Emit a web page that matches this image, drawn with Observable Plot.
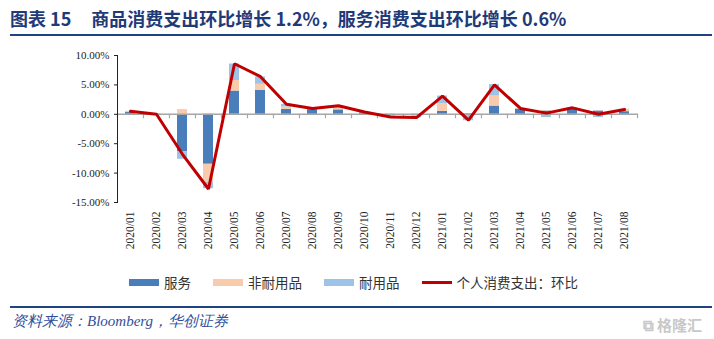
<!DOCTYPE html>
<html><head><meta charset="utf-8">
<script src="https://cdn.jsdelivr.net/npm/d3@7"></script>
<script src="https://cdn.jsdelivr.net/npm/@observablehq/plot@0.6"></script>
<style>
body{margin:0;background:#fff;width:714px;height:339px;position:relative;overflow:hidden;font-family:"Noto Sans CJK SC",sans-serif;}
#title{position:absolute;left:10px;top:5px;font-family:"Noto Sans CJK SC";font-weight:bold;font-size:18px;color:#1f3a78;white-space:nowrap;}
#title .gap{display:inline-block;width:20px;}
#tline{position:absolute;left:10px;right:2px;top:34px;height:2px;background:#1f4280;}
#chart{position:absolute;left:0;top:40px;}
#legend{position:absolute;left:129px;top:272px;display:flex;align-items:center;font-size:13.5px;color:#333;white-space:nowrap;}
.sw{display:inline-block;width:30px;height:7px;margin-right:5px;}
.item{display:flex;align-items:center;margin-right:22px;}
#bline{position:absolute;left:10px;right:2px;top:306px;height:2px;background:#1f4280;}
#source{position:absolute;left:12px;top:312px;font-family:"Liberation Serif","Noto Serif",serif;font-style:italic;font-size:15px;color:#2f4f9a;white-space:nowrap;}
#wm{position:absolute;right:12px;top:314px;font-size:15px;color:#c8c8c8;font-weight:bold;}
</style></head>
<body>
<div id="title">图表 15<span class="gap"></span>商品消费支出环比增长 1.2%，服务消费支出环比增长 0.6%</div>
<div id="tline"></div>
<div id="chart"></div>
<div id="legend"></div>
<div id="bline"></div>
<div id="source">资料来源：Bloomberg，华创证券</div>
<div id="wm">⧉ 格隆汇</div>
<script>
const categories = ["2020/01","2020/02","2020/03","2020/04","2020/05","2020/06","2020/07","2020/08","2020/09","2020/10","2020/11","2020/12","2021/01","2021/02","2021/03","2021/04","2021/05","2021/06","2021/07","2021/08"];
const seriesNames = ["服务","非耐用品","耐用品"];
const lineName = "个人消费支出：环比";
const services    = [0.3, -0.1, -6.35, -8.5, 3.95, 4.1, 0.85, 0.8, 0.75, 0.25, -0.15, -0.1, 0.5, 0.1, 1.4, 0.85, 0.55, 0.85, 0.55, 0.45];
const nondurables = [0.1, 0.1, 0.8, -3.05, 1.8, 1.0, 0.4, 0.1, 0.35, 0.1, -0.1, -0.2, 1.3, -0.2, 1.7, 0.05, 0.1, 0.1, 0.05, 0.35];
const durables    = [0.1, 0.0, -1.3, -1.1, 2.8, 1.25, 0.45, 0.1, 0.3, 0.05, -0.2, -0.3, 1.3, -0.9, 1.95, 0.1, -0.55, 0.15, -0.55, 0.05];
const total       = [0.5, 0.0, -6.8, -12.7, 8.6, 6.4, 1.7, 1.0, 1.45, 0.4, -0.45, -0.55, 3.1, -1.0, 5.0, 1.0, 0.2, 1.1, 0.0, 0.8];
const yTicks = [-15, -10, -5, 0, 5, 10];
const colors = ["#4a7ebb", "#f8cbad", "#9dc3e6"];
const lineColor = "#c00000";

const rows = [];
categories.forEach((c, i) => {
  [services, nondurables, durables].forEach((arr, j) => rows.push({cat: c, series: seriesNames[j], value: arr[i]}));
});
const lineRows = categories.map((c, i) => ({cat: c, value: total[i]}));

const W = 714, ML = 117, MR = 76;
const step = (W - ML - MR) / categories.length;

const plot = Plot.plot({
  width: W, height: 225,
  marginLeft: ML, marginRight: MR, marginTop: 15, marginBottom: 63,
  style: {fontFamily: "'Liberation Serif', serif", fontSize: "11px", color: "#222", background: "transparent"},
  x: {domain: categories, paddingInner: 0.6, paddingOuter: 0.3, axis: null, label: null},
  y: {domain: [-15, 10], axis: null, label: null},
  color: {domain: seriesNames, range: colors},
  marks: [
    Plot.barY(rows, {x: "cat", y: "value", fill: "series"}),
    Plot.ruleY([0], {stroke: "#a6a6a6", strokeWidth: 1.5}),
    Plot.ruleX(categories, {x: d => d, y1: 0, y2: -0.75, dx: -step / 2, stroke: "#a6a6a6", strokeWidth: 1.2}),
    Plot.ruleX(categories.slice(-1), {x: d => d, y1: 0, y2: -0.75, dx: step / 2, stroke: "#a6a6a6", strokeWidth: 1.2}),
    Plot.line(lineRows, {x: "cat", y: "value", stroke: lineColor, strokeWidth: 3, strokeLinejoin: "miter"}),
    Plot.frame({anchor: "left", stroke: "#222"}),
    Plot.axisY({ticks: yTicks, tickFormat: d => d.toFixed(2) + "%", tickSize: 3, tickPadding: 5, fontSize: 11, stroke: "#222", label: null}),
    Plot.axisX({tickSize: 0, tickPadding: 9, tickRotate: -90, fontSize: 11.5, letterSpacing: 0.8, label: null})
  ]
});
document.getElementById("chart").appendChild(plot);

const legend = document.getElementById("legend");
seriesNames.forEach((n, i) => {
  const it = document.createElement("div"); it.className = "item";
  it.innerHTML = `<span class="sw" style="background:${colors[i]}"></span>${n}`;
  legend.appendChild(it);
});
const li = document.createElement("div"); li.className = "item";
li.innerHTML = `<span class="sw" style="height:3px;background:${lineColor}"></span>${lineName}`;
legend.appendChild(li);
</script>
</body></html>
